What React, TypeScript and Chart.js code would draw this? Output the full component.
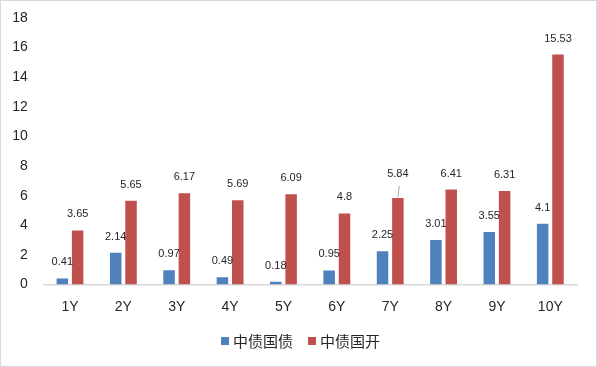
import React, { useEffect, useRef } from "react";
import { Chart, registerables } from "chart.js";

Chart.register(...registerables);

const categories = ["1Y", "2Y", "3Y", "4Y", "5Y", "6Y", "7Y", "8Y", "9Y", "10Y"];
const seriesNames = ["中债国债", "中债国开"];
const govBond = [0.41, 2.14, 0.97, 0.49, 0.18, 0.95, 2.25, 3.01, 3.55, 4.1];
const cdbBond = [3.65, 5.65, 6.17, 5.69, 6.09, 4.8, 5.84, 6.41, 6.31, 15.53];
const yTicks = [0, 2, 4, 6, 8, 10, 12, 14, 16, 18];

const BLUE = "#4f81bd";
const RED = "#c0504d";
const TEXT = "#262626";
const LINE = "#d9d9d9";
const FONT = "'Liberation Sans', Arial, 'Noto Sans CJK SC', sans-serif";
const CJK_FONT = "'Noto Sans CJK SC', 'Liberation Sans', sans-serif";

const labelPlugin = {
  id: "barLabels",
  afterDatasetsDraw(chart: any) {
    const ctx = chart.ctx;
    ctx.save();
    ctx.font = `11px ${FONT}`;
    ctx.fillStyle = TEXT;
    ctx.textAlign = "center";
    ctx.textBaseline = "middle";
    chart.data.datasets.forEach((ds: any, di: number) => {
      const meta = chart.getDatasetMeta(di);
      meta.data.forEach((bar: any, i: number) => {
        const v = ds.data[i];
        const leader = di === 1 && i === 6;
        const off = leader ? 24 : 16;
        if (leader) {
          ctx.strokeStyle = "#a6a6a6";
          ctx.lineWidth = 1;
          ctx.beginPath();
          ctx.moveTo(bar.x, bar.y - 1);
          ctx.lineTo(bar.x + 1.5, bar.y - 12);
          ctx.stroke();
        }
        ctx.fillText(String(v), bar.x, bar.y - off);
      });
    });
    ctx.restore();
  },
};

const legendPlugin = {
  id: "customLegend",
  afterDraw(chart: any) {
    const ctx = chart.ctx;
    ctx.save();
    ctx.font = `15px ${CJK_FONT}`;
    ctx.textBaseline = "middle";
    ctx.textAlign = "left";
    const box = 8;
    const gapBox = 4;
    const gapItem = 15;
    const items = chart.data.datasets.map((ds: any) => ({
      label: ds.label,
      color: ds.backgroundColor,
      w: ctx.measureText(ds.label).width,
    }));
    const total = items.reduce((s: number, it: any) => s + box + gapBox + it.w, 0) + gapItem * (items.length - 1);
    let x = chart.width / 2 + 2 - total / 2;
    const cy = 341;
    items.forEach((it: any) => {
      ctx.fillStyle = it.color;
      ctx.fillRect(x, cy - box / 2, box, box);
      x += box + gapBox;
      ctx.fillStyle = TEXT;
      ctx.fillText(it.label, x, cy);
      x += it.w + gapItem;
    });
    ctx.restore();
  },
};

const borderPlugin = {
  id: "outerBorder",
  afterDraw(chart: any) {
    const ctx = chart.ctx;
    ctx.save();
    ctx.strokeStyle = LINE;
    ctx.lineWidth = 1;
    ctx.strokeRect(0.5, 0.5, chart.width - 1, chart.height - 1);
    ctx.restore();
  },
};

export default function App() {
  const ref = useRef<HTMLCanvasElement | null>(null);
  useEffect(() => {
    document.body.style.margin = "0";
    const canvas = ref.current;
    if (!canvas) return;
    const chart = new Chart(canvas, {
      type: "bar",
      data: {
        labels: categories,
        datasets: [
          { label: seriesNames[0], data: govBond, backgroundColor: BLUE, categoryPercentage: 0.575, barPercentage: 0.75 },
          { label: seriesNames[1], data: cdbBond, backgroundColor: RED, categoryPercentage: 0.575, barPercentage: 0.75 },
        ],
      },
      options: {
        responsive: false,
        animation: false,
        devicePixelRatio: 1,
        layout: { padding: { top: 18, left: 12, right: 20, bottom: 51.7 } },
        plugins: {
          tooltip: { enabled: false },
          legend: { display: false },
        },
        scales: {
          x: {
            grid: { display: false, drawTicks: false },
            border: { display: true, color: LINE, width: 1.5 },
            ticks: { color: TEXT, padding: 14, font: { size: 14, family: FONT } },
            afterFit: (scale: any) => {
              scale.height = 30.8;
              scale.paddingLeft = 0;
              scale.paddingRight = 0;
            },
          },
          y: {
            min: 0,
            max: 18,
            afterBuildTicks: (scale: any) => {
              scale.ticks = yTicks.map((v) => ({ value: v }));
            },
            afterFit: (scale: any) => {
              scale.width = 31.3;
              scale.paddingTop = 0;
              scale.paddingBottom = 0;
            },
            grid: { display: false, drawTicks: false },
            border: { display: false },
            ticks: { color: TEXT, padding: 15.5, font: { size: 14, family: FONT } },
          },
        },
      },
      plugins: [labelPlugin, legendPlugin, borderPlugin],
    } as any);
    return () => chart.destroy();
  }, []);
  return (
    <div style={{ width: 597, height: 367, background: "#fff" }}>
      <canvas ref={ref} width={597} height={367} style={{ display: "block" }} />
    </div>
  );
}
